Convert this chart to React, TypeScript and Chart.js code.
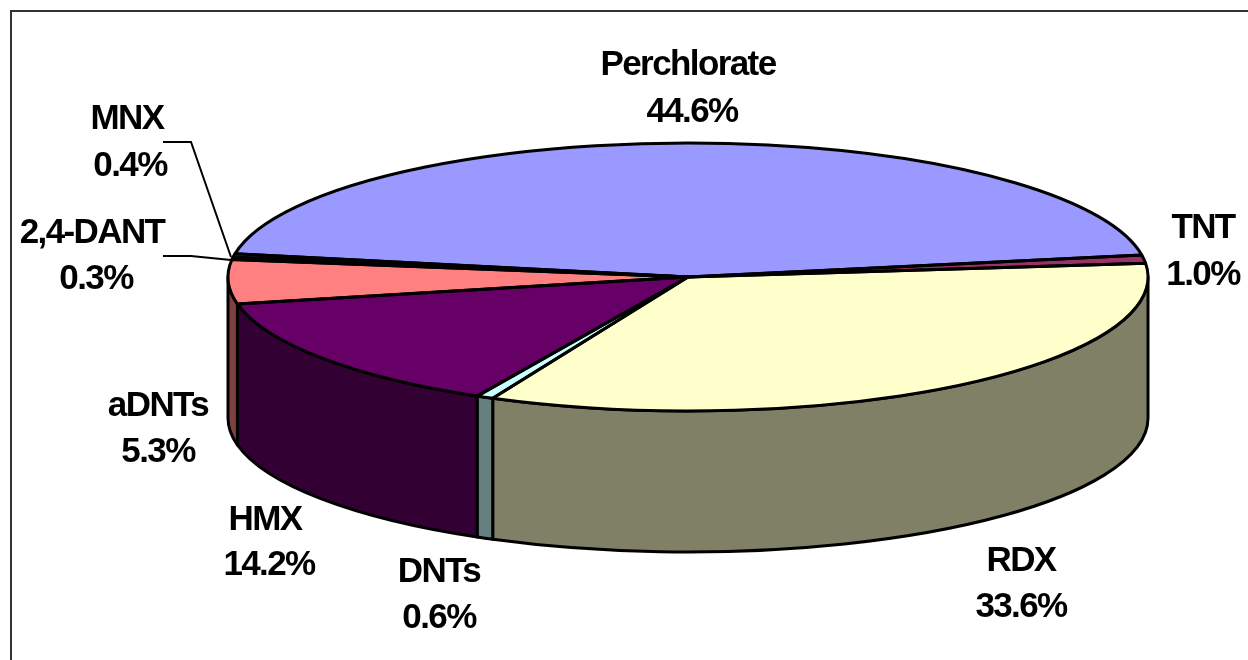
import React, { useEffect, useRef } from "react";
import { Chart, registerables } from "chart.js";

Chart.register(...registerables);

const categories = ["Perchlorate", "TNT", "RDX", "DNTs", "HMX", "aDNTs", "2,4-DANT", "MNX"];
const shares = [44.6, 1.0, 33.6, 0.6, 14.2, 5.3, 0.3, 0.4];
const topColors = ["#9999FF", "#993366", "#FFFFCC", "#CCFFFF", "#660066", "#FF8080", "#0066CC", "#CCCCFF"];
const sideColors = ["#4D4D80", "#4D1A33", "#808066", "#668080", "#330033", "#804040", "#003366", "#666680"];

// label centres: [x, first line y, x of second line, second line y]
const labelSpots = [
  [688, 65, 692, 112],
  [1203, 228, 1203, 275],
  [1021, 561, 1021, 607],
  [439, 572, 439, 618],
  [265, 520, 269, 565],
  [158, 406, 158, 452],
  [92, 233, 96, 279],
  [127, 119, 130, 166],
];
const leaders = [
  { slice: "MNX", path: [[163, 142], [191, 142], [231, 257]] },
  { slice: "2,4-DANT", path: [[163, 256], [191, 256], [231, 260]] },
];

const SQUASH = 134 / 460;
const DEPTH = 141;
const LINE = 3;

const pie3d = {
  id: "pie3d",
  beforeDatasetDraw(chart: any) {
    const { ctx } = chart;
    const arcs = chart.getDatasetMeta(0).data;
    ctx.save();
    ctx.lineWidth = LINE;
    ctx.strokeStyle = "#000";
    ctx.lineJoin = "round";
    arcs.forEach((arc: any, i: number) => {
      const { x, y, outerRadius: r, startAngle, endAngle } = arc.getProps(["x", "y", "outerRadius", "startAngle", "endAngle"]);
      for (const shift of [-2 * Math.PI, 0, 2 * Math.PI]) {
        const a = Math.max(startAngle + shift, 0);
        const b = Math.min(endAngle + shift, Math.PI);
        if (b <= a) continue;
        ctx.beginPath();
        ctx.ellipse(x, y, r, r * SQUASH, 0, a, b, false);
        ctx.ellipse(x, y + DEPTH, r, r * SQUASH, 0, b, a, true);
        ctx.closePath();
        ctx.fillStyle = sideColors[i];
        ctx.fill();
        ctx.stroke();
      }
    });
    ctx.restore();
    // the library draws the slice tops inside this flattening
    const first = arcs[0].getProps(["x", "y"]);
    ctx.save();
    ctx.translate(first.x, first.y);
    ctx.scale(1, SQUASH);
    ctx.translate(-first.x, -first.y);
  },
  afterDatasetDraw(chart: any) {
    const { ctx } = chart;
    ctx.restore();
    const arcs = chart.getDatasetMeta(0).data;
    ctx.save();
    ctx.lineWidth = LINE;
    ctx.strokeStyle = "#000";
    ctx.lineJoin = "round";
    arcs.forEach((arc: any) => {
      const { x, y, outerRadius: r, startAngle, endAngle } = arc.getProps(["x", "y", "outerRadius", "startAngle", "endAngle"]);
      ctx.beginPath();
      ctx.moveTo(x, y);
      ctx.ellipse(x, y, r, r * SQUASH, 0, startAngle, endAngle, false);
      ctx.closePath();
      ctx.stroke();
    });
    ctx.restore();
  },
  afterDraw(chart: any) {
    const { ctx } = chart;
    ctx.save();
    ctx.strokeStyle = "#333";
    ctx.lineWidth = 2;
    ctx.beginPath();
    ctx.moveTo(11, 660);
    ctx.lineTo(11, 11);
    ctx.lineTo(1248, 11);
    ctx.stroke();

    ctx.strokeStyle = "#000";
    ctx.lineWidth = 2;
    leaders.forEach((l) => {
      ctx.beginPath();
      l.path.forEach(([px, py], k) => (k ? ctx.lineTo(px, py) : ctx.moveTo(px, py)));
      ctx.stroke();
    });

    ctx.fillStyle = "#000";
    ctx.font = 'bold 35px "Liberation Sans", Arial, sans-serif';
    (ctx as any).letterSpacing = "-1.6px";
    ctx.textAlign = "center";
    ctx.textBaseline = "middle";
    categories.forEach((name, i) => {
      const [x1, y1, x2, y2] = labelSpots[i];
      ctx.fillText(name, x1, y1);
      ctx.fillText(`${shares[i].toFixed(1)}%`, x2, y2);
    });
    ctx.restore();
  },
};

export default function App() {
  const ref = useRef<HTMLCanvasElement>(null);
  useEffect(() => {
    const chart = new Chart(ref.current as HTMLCanvasElement, {
      type: "pie",
      data: {
        labels: categories,
        datasets: [
          {
            data: shares,
            backgroundColor: topColors,
            borderWidth: 0,
            radius: 460,
            clip: false,
          } as any,
        ],
      },
      options: {
        responsive: false,
        animation: false,
        rotation: -80,
        layout: { padding: { left: 128, right: 0, top: 0, bottom: 106 } },
        plugins: { legend: { display: false }, tooltip: { enabled: false }, title: { display: false } },
      },
      plugins: [pie3d],
    } as any);
    return () => chart.destroy();
  }, []);
  return (
    <div style={{ position: "absolute", left: 0, top: 0, width: 1248, height: 660, background: "#fff" }}>
      <canvas ref={ref} width={1248} height={660} style={{ display: "block" }} />
    </div>
  );
}
